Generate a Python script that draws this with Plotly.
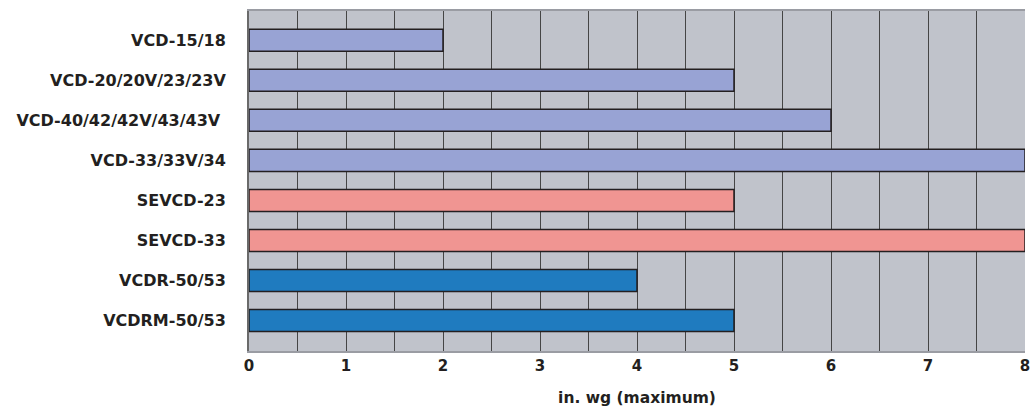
import plotly.graph_objects as go

# Maximum static pressure per damper model
models = [
    "VCD-15/18",
    "VCD-20/20V/23/23V",
    "VCD-40/42/42V/43/43V ",
    "VCD-33/33V/34",
    "SEVCD-23",
    "SEVCD-33",
    "VCDR-50/53",
    "VCDRM-50/53",
]
pressure = [2, 5, 6, 8, 5, 8, 4, 5]
bar_colors = ["#98a3d4", "#98a3d4", "#98a3d4", "#98a3d4",
              "#f09592", "#f09592", "#1f7bbf", "#1f7bbf"]
x_ticks = [0, 1, 2, 3, 4, 5, 6, 7, 8]

font_family = "DejaVu Sans, Arial, sans-serif"

fig = go.Figure()
fig.add_trace(go.Bar(
    x=pressure,
    y=models,
    orientation="h",
    width=0.55,
    marker=dict(color=bar_colors, line=dict(color="#231f20", width=1.5)),
    hoverinfo="x+y",
))

fig.update_layout(
    width=1034,
    height=407,
    margin=dict(l=249, r=9, t=11, b=56),
    paper_bgcolor="white",
    plot_bgcolor="#c0c3cb",
    showlegend=False,
    font=dict(family=font_family, color="#231f20"),
    xaxis=dict(
        range=[0, 8],
        tickvals=x_ticks,
        ticktext=[str(v) for v in x_ticks],
        tickfont=dict(size=15, weight="bold"),
        showgrid=True,
        gridcolor="#454545",
        gridwidth=1,
        minor=dict(dtick=0.5, showgrid=True, gridcolor="#454545", gridwidth=1),
        showline=True,
        linecolor="#9a9ca3",
        linewidth=2,
        mirror=True,
        zeroline=False,
        ticks="",
        ticklen=0,
        automargin=False,
        title=dict(text="in. wg (maximum)", font=dict(size=15.5, weight="bold"), standoff=18),
    ),
    yaxis=dict(
        categoryorder="array",
        categoryarray=models,
        range=[7.76, -0.73],
        tickfont=dict(size=16, weight="bold"),
        showgrid=False,
        showline=True,
        linecolor="#6a6a6a",
        linewidth=2,
        ticks="outside",
        ticklen=0,
        ticklabelstandoff=18,
        automargin=False,
    ),
)

fig.write_html("out.html")
